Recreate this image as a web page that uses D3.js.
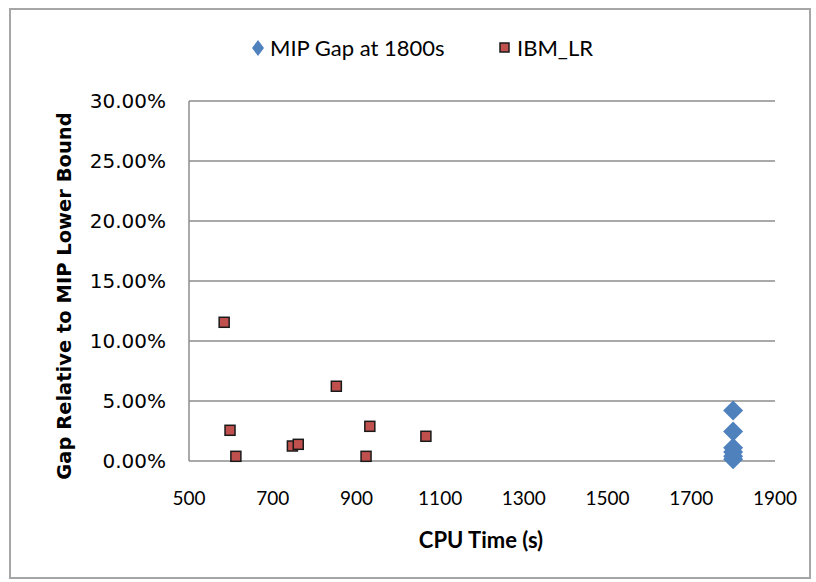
<!DOCTYPE html>
<html>
<meta charset=utf-8>
<head>
<style>
  body { margin: 0; background: #fff; }
  text { fill: #000; }
</style>
</head>
<body>
<svg id="canvas" width="816" height="582"></svg>
<script src="https://d3js.org/d3.v7.min.js"></script>
<script>

// MIP gap at 1800s (all runs hit the time limit)
var mipTime = [1800, 1800, 1800, 1800, 1800, 1800]
var mipGap  = [4.2, 2.45, 1.1, 0.75, 0.4, 0.15]

// IBM_LR heuristic
var lrTime = [584, 598, 612, 747, 761, 852, 932, 923, 1066]
var lrGap  = [11.56, 2.56, 0.39, 1.25, 1.39, 6.23, 2.89, 0.39, 2.06]

var xTicks = [500, 700, 900, 1100, 1300, 1500, 1700, 1900]
var yTicks = [0, 5, 10, 15, 20, 25, 30]

var svg = d3.select('#canvas')

// chart frame
svg.append('rect')
  .attr('x', 10).attr('y', 9)
  .attr('width', 800).attr('height', 569)
  .attr('fill', 'none')
  .attr('stroke', '#a6a6a6')
  .attr('stroke-width', 2)

var x = d3.scaleLinear().domain([500, 1900]).range([189, 775])
var y = d3.scaleLinear().domain([0, 30]).range([461, 101])

// diamond marker path, w/h are half sizes
function diamondPath(w, h) {
  return 'M0,' + (-h) + 'L' + w + ',0L0,' + h + 'L' + (-w) + ',0Z'
}

// horizontal gridlines
svg.selectAll('line.grid')
  .data(yTicks)
  .enter().append('line')
  .attr('class', 'grid')
  .attr('x1', x(500)).attr('x2', x(1900))
  .attr('y1', function(d) { return y(d) })
  .attr('y2', function(d) { return y(d) })
  .attr('stroke', '#8c8c8c')
  .attr('stroke-width', 1.5)

// left axis line
svg.append('line')
  .attr('x1', x(500)).attr('x2', x(500))
  .attr('y1', y(0)).attr('y2', y(30))
  .attr('stroke', '#8c8c8c')
  .attr('stroke-width', 1.5)

// y tick labels
svg.selectAll('text.ytick')
  .data(yTicks)
  .enter().append('text')
  .attr('class', 'ytick')
  .attr('x', 166)
  .attr('y', function(d) { return y(d) + 7 })
  .attr('text-anchor', 'end')
  .style('font', '20px "DejaVu Sans"')
  .text(function(d) { return d.toFixed(2) + '%' })

// x tick labels
svg.selectAll('text.xtick')
  .data(xTicks)
  .enter().append('text')
  .attr('class', 'xtick')
  .attr('x', function(d) { return x(d) })
  .attr('y', 505)
  .attr('text-anchor', 'middle')
  .style('font', '19px Lato')
  .text(function(d) { return d })

// axis titles
svg.append('text')
  .attr('x', 481).attr('y', 548)
  .attr('text-anchor', 'middle')
  .style('font', 'bold 22px Lato')
  .text('CPU Time (s)')

svg.append('text')
  .attr('transform', 'translate(71,296) rotate(-90)')
  .attr('text-anchor', 'middle')
  .style('font', 'bold 19.5px "DejaVu Sans"')
  .text('Gap Relative to MIP Lower Bound')

// series
svg.selectAll('path.mip')
  .data(mipTime.map(function(t, i) { return {t: t, g: mipGap[i]} }))
  .enter().append('path')
  .attr('class', 'mip')
  .attr('d', diamondPath(10, 10))
  .attr('transform', function(d) {
    return 'translate(' + x(d.t) + ',' + y(d.g) + ')'
  })
  .attr('fill', '#4f81bd')

svg.selectAll('rect.lr')
  .data(lrTime.map(function(t, i) { return {t: t, g: lrGap[i]} }))
  .enter().append('rect')
  .attr('class', 'lr')
  .attr('x', function(d) { return x(d.t) - 5 })
  .attr('y', function(d) { return y(d.g) - 5 })
  .attr('width', 10).attr('height', 10)
  .attr('fill', '#c0504d')
  .attr('stroke', '#1a1a1a')
  .attr('stroke-width', 1.5)

// legend
var lg = svg.append('g')
lg.append('path')
  .attr('d', diamondPath(6, 8))
  .attr('transform', 'translate(258,48)')
  .attr('fill', '#4f81bd')
lg.append('text')
  .attr('x', 270).attr('y', 56)
  .style('font', '22px Lato')
  .text('MIP Gap at 1800s')
lg.append('rect')
  .attr('x', 500).attr('y', 43)
  .attr('width', 9).attr('height', 9)
  .attr('fill', '#c0504d')
  .attr('stroke', '#1a1a1a')
  .attr('stroke-width', 1.5)
lg.append('text')
  .attr('x', 517).attr('y', 56)
  .style('font', '22px Lato')
  .text('IBM_LR')

</script>
</body>
</html>
